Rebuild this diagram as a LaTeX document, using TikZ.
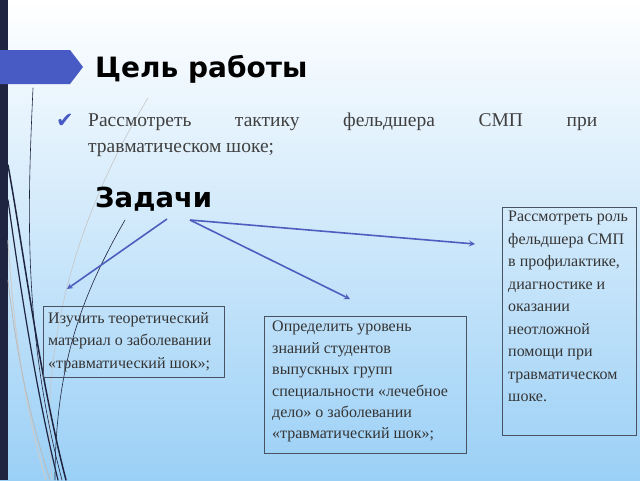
\documentclass[tikz,border=0pt]{standalone}
\usepackage{fontspec}
\setmainfont{Liberation Serif}
\newfontfamily\headfont{DejaVu Sans}
\newfontfamily\symfont{DejaVu Sans}
\usepackage{xcolor}
\usetikzlibrary{arrows,shapes,positioning}

\definecolor{navy}{RGB}{31,36,64}
\definecolor{tabblue}{RGB}{72,90,196}
\definecolor{lineblue}{RGB}{78,94,190}
\definecolor{boxgray}{RGB}{72,82,98}
\definecolor{txtgray}{RGB}{52,52,52}
\definecolor{introgray}{RGB}{64,64,64}
\definecolor{bgblue}{RGB}{155,208,246}

\tikzset{
  head/.style={inner sep=0pt, anchor=base west, font=\headfont\bfseries\fontsize{28}{32}\selectfont},
  taskbox/.style={draw=boxgray, line width=0.8pt, anchor=north west},
  tasktext/.style={inner sep=0pt, anchor=north west, align=left, text=txtgray},
  decor/.style={line cap=round}
}

\begin{document}
\begin{tikzpicture}[x=1pt,y=-1pt]
        \useasboundingbox (0,0) rectangle (640,480);
        \shade[top color=white, bottom color=bgblue] (0,0) rectangle (640,480);

        \fill[navy] (0,0) rectangle (8,480);
        \fill[tabblue] (0,50) -- (70,50) -- (83,67) -- (70,84) -- (0,84) -- cycle;

        \draw[decor, gray!45, line width=0.6pt] (148,98) .. controls (80,210) and (38,340) .. (52,480);
        \draw[decor, gray!40, line width=1pt] (8,240) .. controls (14,340) and (28,420) .. (46,480);
        \draw[decor, gray!55, line width=0.8pt] (8,280) .. controls (18,370) and (34,430) .. (50,480);
        \draw[decor, navy, line width=0.6pt] (33,88) .. controls (28,200) and (22,330) .. (62,480);
        \draw[decor, navy, line width=1.5pt] (8,165) .. controls (25,260) and (40,380) .. (66,480);
        \draw[decor, navy, line width=1.2pt] (8,200) .. controls (22,300) and (38,400) .. (58,480);
        \draw[decor, navy, line width=0.6pt] (125,220) .. controls (85,290) and (55,360) .. (55,480);

        \node[head] (goal) at (95,77) {Цель работы};
        \node[inner sep=0pt, anchor=base west, text=tabblue, font=\symfont\fontsize{21}{24}\selectfont] (tick) at (56,127) {✔};
        \node[inner sep=0pt, anchor=north west, text width=509pt, align=justify, text=introgray,
              font=\fontsize{19.5}{25.5}\selectfont] (aim) at (88,113)
              {Рассмотреть тактику фельдшера СМП при\linebreak травматическом шоке;};
        \node[head, font=\headfont\bfseries\fontsize{27.5}{32}\selectfont] (tasks) at (95,207) {Задачи};

        \node[taskbox, minimum width=181pt, minimum height=71pt] (study) at (43,306) {};
        \node[taskbox, minimum width=202pt, minimum height=137pt] (level) at (264,316) {};
        \node[taskbox, minimum width=134pt, minimum height=228pt] (role) at (502,207) {};

        \node[tasktext, font=\fontsize{16}{22.5}\selectfont] (studytxt) at ([shift={(5,6)}]study.north west)
              {Изучить теоретический\\материал о заболевании\\«травматический шок»;};
        \node[tasktext, font=\fontsize{16}{21.4}\selectfont] (leveltxt) at ([shift={(8,5)}]level.north west)
              {Определить уровень\\знаний студентов\\выпускных групп\\специальности «лечебное\\дело» о заболевании\\«травматический шок»;};
        \node[tasktext, font=\fontsize{16}{22.5}\selectfont] (roletxt) at ([shift={(6,4)}]role.north west)
              {Рассмотреть роль\\фельдшера СМП\\в профилактике,\\диагностике и\\оказании\\неотложной\\помощи при\\травматическом\\шоке.};

        \coordinate (fromA) at (167,219);
        \coordinate (fromB) at (190,220);
        \coordinate (toStudy) at (67,289);
        \coordinate (toLevel) at (350,299);
        \coordinate (toRole) at (475,244);

        \draw[->,>=stealth, lineblue, line width=1.6pt] (fromA) -- (toStudy);
        \draw[->,>=stealth, lineblue, line width=1.6pt] (fromB) -- (toLevel);
        \draw[->,>=stealth, lineblue, line width=1.6pt] (fromB) -- (toRole);
    \end{tikzpicture}
\end{document}
